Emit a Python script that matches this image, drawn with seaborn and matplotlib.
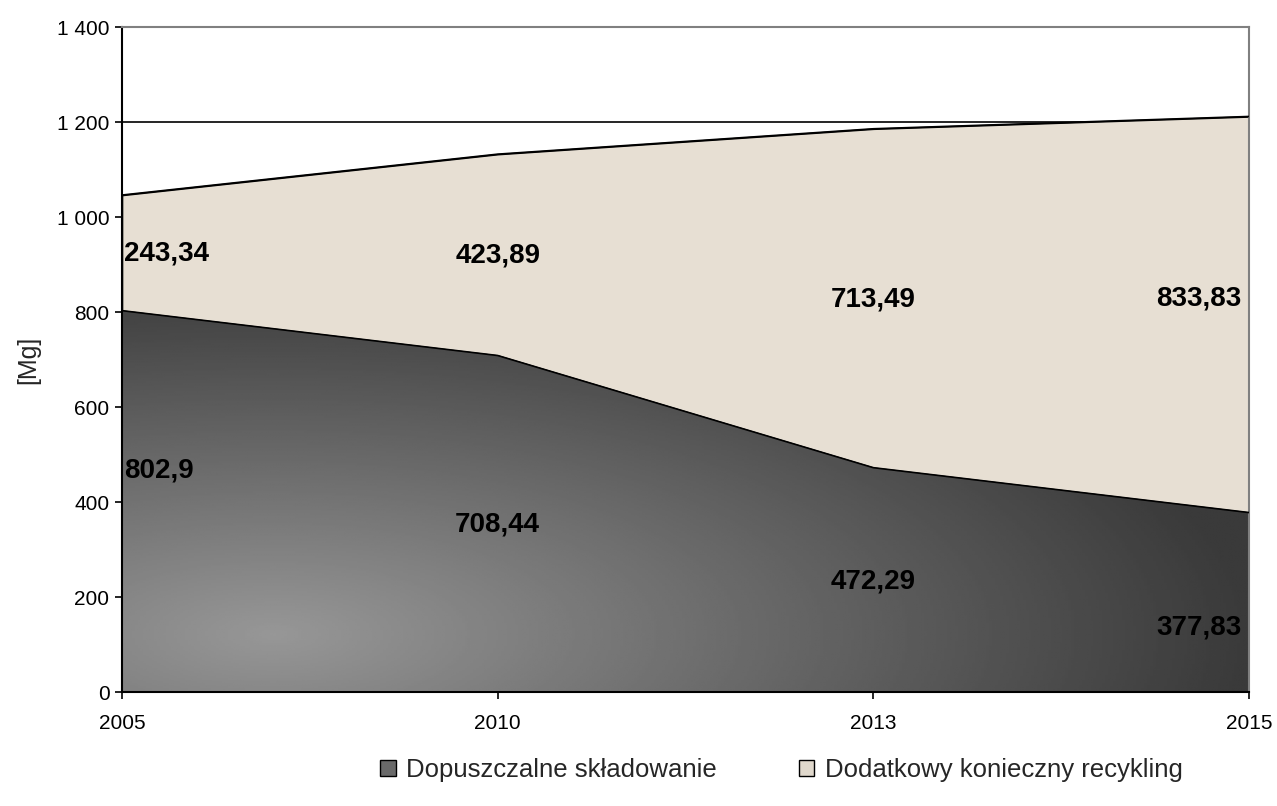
import numpy as np
import pandas as pd
import matplotlib.pyplot as plt
import seaborn as sns
from matplotlib.patches import Patch
from matplotlib.ticker import FuncFormatter

sns.set_theme(style="white")
plt.rcParams['font.family'] = ['Liberation Sans', 'DejaVu Sans']

# ── data ────────────────────────────────────────────────────────────────────
years       = ["2005", "2010", "2013", "2015"]
skladowanie = [802.9, 708.44, 472.29, 377.83]
recykling   = [243.34, 423.89, 713.49, 833.83]
labels_skl  = ["802,9", "708,44", "472,29", "377,83"]
labels_rec  = ["243,34", "423,89", "713,49", "833,83"]

# label placement (x in category units, y in Mg)
lab_x     = [0.006, 1.0, 2.0, 2.98]
lab_ha    = ["left", "center", "center", "right"]
lab_y_skl = [467, 352, 232, 135]
lab_y_rec = [924, 918, 826, 828]

df = pd.DataFrame({"year": years, "skl": skladowanie, "rec": recykling})
df["pos"] = np.arange(len(df))
df["total"] = df["skl"] + df["rec"]

beige = "#e7dfd3"

fig = plt.figure(figsize=(12.77, 8.06), dpi=100)
ax = fig.add_axes([0.0955, 0.1414, 0.8826, 0.8251])

# horizontal grid lines (hidden behind the areas)
for g in range(200, 1400, 200):
    ax.axhline(g, color="black", linewidth=1.2, zorder=1)

polys = ax.stackplot(df["pos"], df["skl"], df["rec"],
                     colors=["none", beige], edgecolor="black",
                     linewidth=1.2, zorder=2)

# gradient fill for the lower area
xs = np.linspace(0, 3, 400)
ys = np.linspace(0, 1400, 400)
XX, YY = np.meshgrid(xs, ys)
r = np.sqrt(((XX - 0.4) / 2.6) ** 2 + ((YY - 120) / 760) ** 2)
r = np.clip(r, 0, 1)
grad = (0x97 * (1 - r) + 0x3a * r) / 255.0
im = ax.imshow(grad, extent=[0, 3, 0, 1400], origin="lower", aspect="auto",
               cmap="gray", vmin=0, vmax=1, zorder=2.5)
im.set_clip_path(polys[0].get_paths()[0], transform=ax.transData)

sns.lineplot(x=df["pos"], y=df["skl"], color="black", linewidth=1.2,
             ax=ax, zorder=3)
sns.lineplot(x=df["pos"], y=df["total"], color="black", linewidth=1.2,
             ax=ax, zorder=3)

# data labels
for i in range(len(df)):
    ax.text(lab_x[i], lab_y_rec[i], labels_rec[i], ha=lab_ha[i], va="center",
            fontsize=20, fontweight="bold", color="black", zorder=5)
    ax.text(lab_x[i], lab_y_skl[i], labels_skl[i], ha=lab_ha[i], va="center",
            fontsize=20, fontweight="bold", color="black", zorder=5)

ax.set_xlim(0, 3)
ax.set_ylim(0, 1400)
ax.set_xticks(df["pos"])
ax.set_xticklabels(years)
ax.set_yticks(range(0, 1401, 200))
ax.yaxis.set_major_formatter(FuncFormatter(lambda v, p: f"{int(v):,}".replace(",", " ")))
ax.tick_params(axis="both", direction="out", length=5, width=1.2,
               colors="black", labelsize=15, bottom=True, left=True)
ax.tick_params(axis="x", pad=11)
ax.tick_params(axis="y", pad=4)
ax.set_xlabel("")
ax.set_ylabel("[Mg]", fontsize=18, labelpad=12)

for side in ["left", "bottom"]:
    ax.spines[side].set_color("black")
    ax.spines[side].set_linewidth(1.5)
for side in ["top", "right"]:
    ax.spines[side].set_color("#808080")
    ax.spines[side].set_linewidth(1.5)
    ax.spines[side].set_visible(True)

handles = [Patch(facecolor="#6a6a6a", edgecolor="black", label="Dopuszczalne składowanie"),
           Patch(facecolor="#e0d8cc", edgecolor="black", label="Dodatkowy konieczny recykling")]
fig.legend(handles=handles, loc="center", bbox_to_anchor=(0.612, 0.045), ncol=2,
           frameon=False, fontsize=18.5, handlelength=0.6, handleheight=0.6,
           handletextpad=0.4, columnspacing=3.2)

plt.savefig("out.png", dpi=100)
plt.close()
